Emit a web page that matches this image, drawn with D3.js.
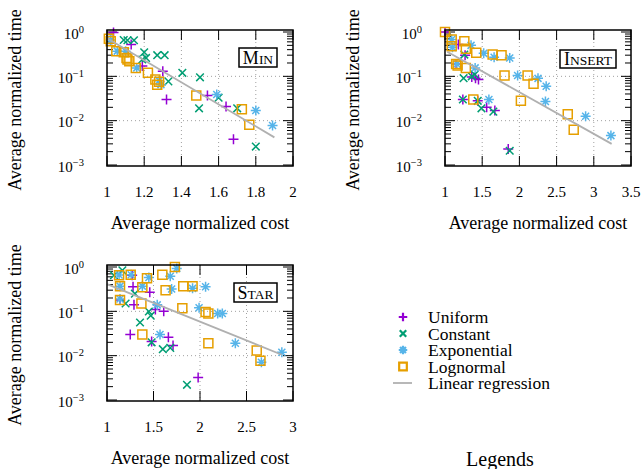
<!DOCTYPE html>
<html>
<head>
<meta charset="utf-8">
<script src="https://cdn.jsdelivr.net/npm/d3@7"></script>
<style>
  body { margin: 0; background: #fff; }
  text { font-family: "Liberation Serif", "Times New Roman", serif; fill: #000; }
</style>
</head>
<body>
<svg id="chart" width="641" height="469"></svg>
<script>
// ---- data (average normalized cost, average normalized time) ----
const minUniform = [[1.035,0.98],[1.13,0.52],[1.19,0.17],[1.30,0.13],[1.32,0.030],[1.54,0.037],[1.64,0.021],[1.68,0.0038]];
const minConstant = [[1.09,0.66],[1.11,0.65],[1.145,0.65],[1.20,0.35],[1.21,0.26],[1.19,0.24],[1.27,0.30],[1.31,0.30],
  [1.405,0.12],[1.50,0.095],[1.33,0.077],[1.495,0.019],[1.60,0.033],[1.70,0.019],[1.80,0.0026]];
const minExponential = [[1.02,0.66],[1.055,0.37],[1.10,0.37],[1.16,0.155],[1.28,0.08],[1.29,0.065],[1.59,0.039],[1.80,0.017],[1.89,0.0078]];
const minLognormal = [[1.01,0.70],[1.02,0.62],[1.05,0.37],[1.09,0.35],[1.105,0.26],[1.11,0.24],[1.12,0.22],[1.155,0.155],
  [1.22,0.12],[1.26,0.085],[1.27,0.065],[1.28,0.075],[1.48,0.037],[1.725,0.018],[1.765,0.0081]];
const minRegression = [[1.0,0.72],[1.90,0.0042]];

const insUniform = [[1.0,1.0],[1.18,0.52],[1.27,0.30],[1.15,0.19],[1.41,0.09],[1.45,0.085],[1.36,0.096],
  [1.24,0.030],[1.44,0.028],[1.56,0.020],[1.67,0.017],[1.85,0.0023]];
const insConstant = [[1.26,0.31],[1.25,0.091],[1.36,0.10],[1.40,0.11],[1.24,0.030],[1.49,0.019],[1.65,0.016],[1.87,0.0021],[1.44,0.028]];
const insExponential = [[1.09,0.68],[1.10,0.45],[1.35,0.5],[1.52,0.33],[1.66,0.27],[1.87,0.26],[1.16,0.19],[1.405,0.155],
  [1.976,0.104],[2.25,0.09],[2.36,0.060],[2.35,0.027],[1.59,0.030],[2.89,0.0126],[3.23,0.0046]];
const insLognormal = [[1.0,1.0],[1.09,0.68],[1.09,0.48],[1.26,0.62],[1.28,0.42],[1.42,0.34],[1.64,0.31],[1.76,0.30],
  [1.15,0.19],[1.17,0.175],[1.28,0.155],[1.80,0.104],[2.11,0.104],[2.19,0.068],[1.38,0.030],[2.02,0.028],[2.65,0.014],[2.73,0.0062]];
const insRegression = [[1.03,0.36],[3.24,0.003]];

const starUniform = [[1.27,0.65],[1.28,0.36],[1.46,0.27],[1.14,0.18],[1.29,0.14],[1.52,0.11],[1.61,0.10],
  [1.25,0.030],[1.66,0.026],[1.48,0.021],[1.71,0.017],[1.98,0.0032]];
const starConstant = [[1.075,0.65],[1.165,0.84],[1.30,0.25],[1.20,0.15],[1.45,0.099],[1.47,0.080],[1.355,0.056],
  [1.48,0.020],[1.60,0.014],[1.68,0.015],[1.86,0.0022]];
const starExponential = [[1.13,0.66],[1.26,0.67],[1.45,0.58],[1.68,0.62],[1.75,0.93],[1.14,0.37],[1.38,0.37],[1.695,0.32],
  [1.92,0.33],[2.06,0.36],[1.14,0.19],[1.54,0.14],[1.99,0.12],[2.19,0.089],[2.24,0.089],[1.57,0.030],[2.38,0.019],[2.88,0.012],[2.66,0.0071]];
const starLognormal = [[1.13,0.65],[1.255,0.67],[1.43,0.56],[1.595,0.67],[1.73,1.0],[1.14,0.37],[1.38,0.35],[1.63,0.30],
  [1.82,0.37],[1.92,0.37],[1.14,0.18],[1.37,0.15],[1.81,0.117],[2.06,0.096],[2.09,0.089],[1.38,0.030],[2.09,0.019],[2.61,0.013],[2.65,0.0077]];
const starRegression = [[1.0,0.41],[2.88,0.0105]];

const seriesNames = ['Uniform', 'Constant', 'Exponential', 'Lognormal'];
const minTicks = [1, 1.2, 1.4, 1.6, 1.8, 2];
const insTicks = [1, 1.5, 2, 2.5, 3, 3.5];
const starTicks = [1, 1.5, 2, 2.5, 3];
const yTicks = [1, 0.1, 0.01, 0.001];

const colors = ['#9400d3', '#009e73', '#56b4e9', '#e69f00'];
const shapes = ['plus', 'cross', 'star', 'square'];

const svg = d3.select('#chart');

function markerPath(shape) {
  if (shape === 'plus') return 'M-5,0H5M0,-5V5';
  if (shape === 'cross') return 'M-3.8,-3.8L3.8,3.8M-3.8,3.8L3.8,-3.8';
  if (shape === 'star') return 'M-5,0H5M0,-5V5M-3.5,-3.5L3.5,3.5M-3.5,3.5L3.5,-3.5';
  return 'M-4.5,-4.5H4.5V4.5H-4.5Z';
}

function tickLabel(g, x, y, exp) {
  const t = g.append('text').attr('x', x).attr('y', y).attr('text-anchor', 'end').style('font-size', '15px');
  t.append('tspan').text('10');
  t.append('tspan').attr('dy', -6).style('font-size', '10.5px').text(exp === 0 ? '0' : '\u2212' + Math.abs(exp));
}

function panel(p) {
  const g = svg.append('g');
  const x = d3.scaleLinear().domain([p.xTicks[0], p.xTicks[p.xTicks.length - 1]]).range(p.xRange);
  const y = d3.scaleLog().domain([1e-3, 1]).range(p.yRange);
  const [x0, x1] = p.xRange;
  const top = p.yRange[1] - 2, bottom = p.yRange[0] + 1;

  // dotted grid
  g.selectAll('.gx').data(p.xTicks.slice(1, -1)).enter().append('line')
    .attr('x1', d => x(d)).attr('x2', d => x(d)).attr('y1', top).attr('y2', bottom)
    .attr('stroke', '#a0a0a0').attr('stroke-width', 1).attr('stroke-dasharray', '1,3');
  g.selectAll('.gy').data([0.1, 0.01]).enter().append('line')
    .attr('x1', x0).attr('x2', x1).attr('y1', d => y(d)).attr('y2', d => y(d))
    .attr('stroke', '#a0a0a0').attr('stroke-width', 1).attr('stroke-dasharray', '1,3');

  // ticks
  const minor = [];
  [-3, -2, -1].forEach(e => { for (let k = 2; k <= 9; k++) minor.push(k * Math.pow(10, e)); });
  const tk = g.append('g').attr('stroke', '#000').attr('stroke-width', 1);
  yTicks.forEach(v => {
    tk.append('line').attr('x1', x0).attr('x2', x0 + 10).attr('y1', y(v)).attr('y2', y(v));
    tk.append('line').attr('x1', x1).attr('x2', x1 - 10).attr('y1', y(v)).attr('y2', y(v));
  });
  minor.forEach(v => {
    tk.append('line').attr('x1', x0).attr('x2', x0 + 6).attr('y1', y(v)).attr('y2', y(v));
    tk.append('line').attr('x1', x1).attr('x2', x1 - 6).attr('y1', y(v)).attr('y2', y(v));
  });
  p.xTicks.forEach(v => {
    tk.append('line').attr('x1', x(v)).attr('x2', x(v)).attr('y1', bottom).attr('y2', bottom - 10);
    tk.append('line').attr('x1', x(v)).attr('x2', x(v)).attr('y1', top).attr('y2', top + 10);
  });

  // tick labels
  yTicks.forEach(v => tickLabel(g, x0 - 23, y(v) + 6.5, Math.round(Math.log10(v))));
  g.selectAll('.xl').data(p.xTicks).enter().append('text')
    .attr('x', d => x(d)).attr('y', bottom + 31).attr('text-anchor', 'middle')
    .style('font-size', '15px').text(d => d);

  // series
  p.series.forEach((data, i) => {
    g.append('g').selectAll('path').data(data).enter().append('path')
      .attr('d', markerPath(shapes[i]))
      .attr('transform', d => `translate(${x(d[0])},${y(d[1])})`)
      .attr('fill', 'none').attr('stroke', colors[i]).attr('stroke-width', 1.5);
  });

  // linear regression
  g.append('path').datum(p.reg)
    .attr('d', d3.line().x(d => x(d[0])).y(d => y(d[1])))
    .attr('fill', 'none').attr('stroke', '#b0b0b0').attr('stroke-width', 1.8);

  // frame
  g.append('rect').attr('x', x0).attr('y', top).attr('width', x1 - x0).attr('height', bottom - top)
    .attr('fill', 'none').attr('stroke', '#000').attr('stroke-width', 1.5);

  // name box
  const b = p.box;
  g.append('rect').attr('x', b.x).attr('y', b.y).attr('width', b.w).attr('height', b.h)
    .attr('fill', '#fff').attr('stroke', '#000').attr('stroke-width', 1.5);
  const nt = g.append('text').attr('x', b.x + b.w / 2).attr('y', b.y + b.h - 3.5)
    .attr('text-anchor', 'middle').style('font-size', '18px');
  nt.append('tspan').text(p.name[0]);
  nt.append('tspan').style('font-size', '13.5px').text(p.name.slice(1).toUpperCase());

  // axis titles
  g.append('text').attr('transform', `translate(${x0 - 86},${(top + bottom) / 2 + 2}) rotate(-90)`)
    .attr('text-anchor', 'middle').style('font-size', '18px').text('Average normalized time');
  g.append('text').attr('x', (x0 + x1) / 2).attr('y', bottom + 63)
    .attr('text-anchor', 'middle').style('font-size', '18px').text('Average normalized cost');
}

panel({ name: 'Min', xTicks: minTicks, xRange: [107, 293], yRange: [165, 32],
  series: [minUniform, minConstant, minExponential, minLognormal], reg: minRegression,
  box: { x: 239, y: 48, w: 38, h: 19 } });
panel({ name: 'Insert', xTicks: insTicks, xRange: [445, 631], yRange: [165, 32],
  series: [insUniform, insConstant, insExponential, insLognormal], reg: insRegression,
  box: { x: 560, y: 50, w: 56, h: 18 } });
panel({ name: 'Star', xTicks: starTicks, xRange: [107, 293], yRange: [400, 267],
  series: [starUniform, starConstant, starExponential, starLognormal], reg: starRegression,
  box: { x: 234, y: 283, w: 43, h: 19 } });

// legend
const lg = svg.append('g');
const rowY = d3.scaleLinear().domain([0, 4]).range([317, 383]);
seriesNames.forEach((name, i) => {
  lg.append('path').attr('d', markerPath(shapes[i]))
    .attr('transform', `translate(403,${rowY(i)}) scale(0.85)`)
    .attr('fill', 'none').attr('stroke', colors[i]).attr('stroke-width', 2.6);
  lg.append('text').attr('x', 428).attr('y', rowY(i) + 6).style('font-size', '17.5px').text(name);
});
lg.append('line').attr('x1', 393).attr('x2', 412).attr('y1', rowY(4)).attr('y2', rowY(4))
  .attr('stroke', '#b0b0b0').attr('stroke-width', 1.8);
lg.append('text').attr('x', 428).attr('y', rowY(4) + 6).style('font-size', '17.5px').text('Linear regression');
svg.append('text').attr('x', 500).attr('y', 466).attr('text-anchor', 'middle').style('font-size', '20px').text('Legends');
</script>
</body>
</html>
